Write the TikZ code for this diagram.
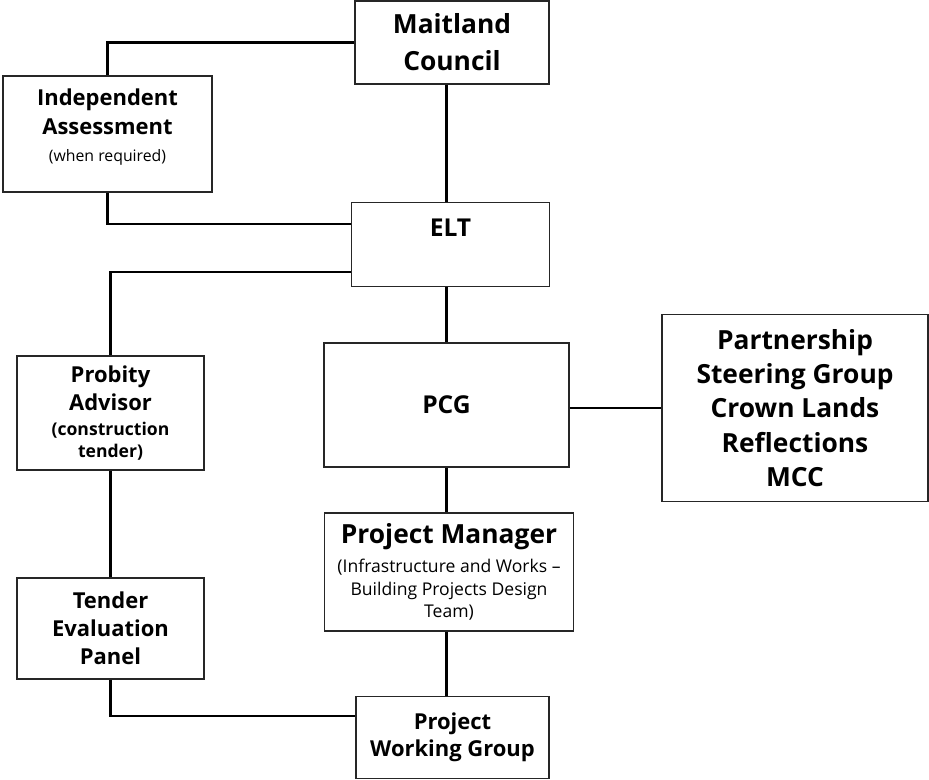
\documentclass[tikz,border=0pt]{standalone}
\usepackage{fontspec}
\setmainfont{Open Sans}
\usepackage{tikz}
\newcommand{\pxu}{0.02cm}

\begin{document}
\begin{tikzpicture}[x=\pxu, y=-\pxu,
  box/.style={draw=black!85, line width=0.8pt, align=center, inner sep=0pt, font=\bfseries},
  link/.style={draw=black, line width=1.3pt}]
\useasboundingbox (0,0) rectangle (929,779);

\node[box, minimum width=194*\pxu, minimum height=83*\pxu, font=\bfseries\fontsize{15}{21}\selectfont] (mc) at (452,42.5) {Maitland\\Council};
\node[box, minimum width=209*\pxu, minimum height=116*\pxu, font=\bfseries\fontsize{12.5}{16.5}\selectfont] (ia) at (107.5,134) {Independent\\Assessment\\[-1pt]{\mdseries\fontsize{9}{15}\selectfont (when required)}\\[-6pt]\mbox{}};
\node[box, minimum width=198*\pxu, minimum height=84*\pxu, text depth=19pt, font=\bfseries\fontsize{14}{18}\selectfont] (elt) at (450.5,244.5) {ELT};
\node[box, minimum width=245*\pxu, minimum height=124*\pxu, font=\bfseries\fontsize{14}{18}\selectfont] (pcg) at (446.5,405) {PCG};
\node[box, minimum width=266*\pxu, minimum height=187*\pxu, font=\bfseries\fontsize{15}{19.5}\selectfont] (psg) at (795,408) {Partnership\\Steering Group\\Crown Lands\\Reflections\\MCC};
\node[box, minimum width=187*\pxu, minimum height=114*\pxu, font=\bfseries\fontsize{12.5}{16}\selectfont] (pa) at (110.5,413) {Probity\\Advisor\\[-1.8pt]{\fontsize{10}{12.5}\selectfont (construction}\\[-3.5pt]{\fontsize{10}{12.5}\selectfont tender)}};
\node[box, minimum width=249*\pxu, minimum height=118*\pxu, font=\bfseries\fontsize{15}{16.5}\selectfont] (pm) at (449,572) {Project Manager\\{\mdseries\fontsize{10}{13}\selectfont (Infrastructure and Works –}\\[-3.5pt]{\mdseries\fontsize{10}{13}\selectfont Building Projects Design}\\[-3.5pt]{\mdseries\fontsize{10}{13}\selectfont Team)}};
\node[box, minimum width=187*\pxu, minimum height=101*\pxu, font=\bfseries\fontsize{12.5}{16}\selectfont] (tep) at (110.5,628.5) {Tender\\Evaluation\\Panel};
\node[box, minimum width=193*\pxu, minimum height=82*\pxu, font=\bfseries\fontsize{12.5}{15.5}\selectfont] (pwg) at (452.5,737.5) {Project\\Working Group};

\draw[link] (ia.north) |- (mc.west);
\draw[link] (mc.south -| pcg.north) -- (elt.north -| pcg.north);
\draw[link] (ia.south) |- (elt.west |- 0,224);
\draw[link] (elt.west |- 0,272) -| (pa.north);
\draw[link] (elt.south -| pcg.north) -- (pcg.north);
\draw[link] (pcg.east |- psg.west) -- (psg.west);
\draw[link] (pcg.south) -- (pcg.south |- pm.north);
\draw[link] (pm.south -| pcg.south) -- (pwg.north -| pcg.south);
\draw[link] (pa.south) -- (tep.north);
\draw[link] (tep.south) |- (pwg.west |- 0,716);
\end{tikzpicture}
\end{document}
